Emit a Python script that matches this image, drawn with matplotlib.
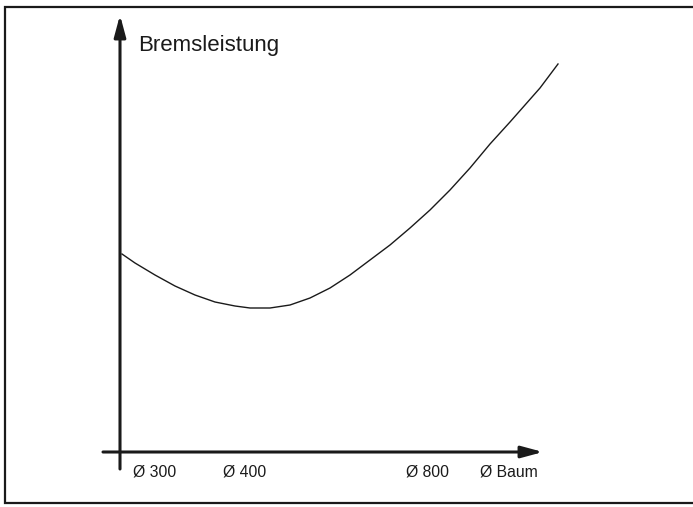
import numpy as np
import matplotlib.pyplot as plt

# Bremsleistung curve (horizontal position, height on page scale)
curve_x = [122, 135, 155, 175, 195, 215, 235, 250, 270, 290, 310, 330, 350, 370,
           390, 410, 430, 450, 470, 490, 510, 540, 558]
curve_y = [254, 263, 275, 286, 295, 302, 306, 308, 308, 305, 298, 288, 275, 260,
           245, 228, 210, 190, 168, 144, 122, 88, 64]

x_labels = ["Ø 300", "Ø 400", "Ø 800", "Ø Baum"]
x_label_pos = [133, 223, 406, 480]
y_title = "Bremsleistung"

plt.rcParams['font.family'] = ['Liberation Sans', 'DejaVu Sans']

fig = plt.figure(figsize=(6.93, 5.07), dpi=100)
ax = fig.add_axes([0, 0, 1, 1])
ax.set_xlim(0, 693)
ax.set_ylim(507, 0)
ax.axis("off")

ink = "#1a1a1a"

# frame (right edge is cut off in the scan)
ax.plot([700, 5, 5, 700], [7, 7, 503, 503], color=ink, lw=1.6, solid_joinstyle="miter")

# axes with arrows
ax.annotate("", xy=(120, 15), xytext=(120, 469),
            arrowprops=dict(arrowstyle="-|>,head_length=1.3,head_width=0.35", color=ink, lw=2.2,
                            shrinkA=0, shrinkB=0))
ax.annotate("", xy=(543, 452), xytext=(103, 452),
            arrowprops=dict(arrowstyle="-|>,head_length=1.3,head_width=0.35", color=ink, lw=2.2,
                            shrinkA=0, shrinkB=0))

ax.plot(curve_x, curve_y, color=ink, lw=1.0, solid_joinstyle="round")

ax.text(138, 45, y_title, fontsize=16, color=ink, va="center", ha="left")
for lab, px in zip(x_labels, x_label_pos):
    ax.text(px, 472, lab, fontsize=11.3, color=ink, va="center", ha="left")

plt.savefig("out.png", dpi=100)
